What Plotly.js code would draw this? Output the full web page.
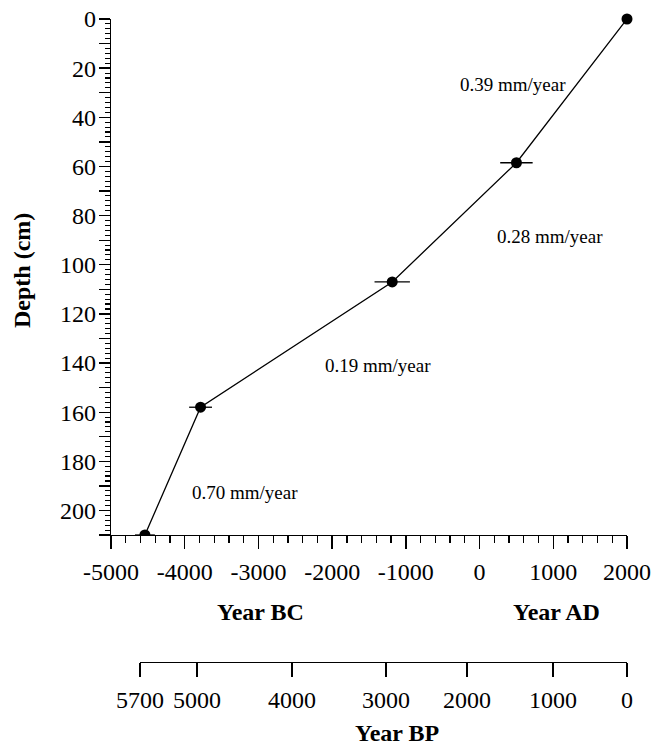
<!DOCTYPE html>
<html>
<head>
<meta charset="utf-8">
<script src="https://cdn.plot.ly/plotly-3.0.1.min.js"></script>
<style>html,body{margin:0;padding:0;background:#fff;}#chart{width:652px;height:747px;}</style>
</head>
<body>
<div id="chart"></div>
<script>
// Data
var years  = [2000, 500, -1185, -3785, -4540];   // calendar year (BC negative)
var depths = [0, 58.5, 107, 158, 210];           // depth (cm)
var yearErr = [0, 220, 240, 155, 135];           // +/- years

var rateLabels = ['0.39 mm/year', '0.28 mm/year', '0.19 mm/year', '0.70 mm/year'];
var rateX = [454, 956, -1378, -3182];
var rateY = [26.5, 88.7, 141.2, 192.5];

var xTickVals = [-5000, -4000, -3000, -2000, -1000, 0, 1000, 2000];
var xTickText = ['-5000', '-4000', '-3000', '-2000', '-1000', '0', '1000', '2000'];

var depthTickVals = [0, 10, 20, 30, 40, 50, 60, 70, 80, 90, 100, 110, 120, 130, 140, 150, 160, 170, 180, 190, 200, 210];
var depthTickText = ['0', '', '20', '', '40', '', '60', '', '80', '', '100', '', '120', '', '140', '', '160', '', '180', '', '200', ''];

var bpTickLabels = ['5700', '5000', '4000', '3000', '2000', '1000', '0'];
var bpTickCalYears = [-4607, -3833, -2544, -1269, -170, 997, 2000];

var FONT = "'Liberation Serif', 'Times New Roman', Times, serif";
var n = years.length;

var traces = [
  {
    x: years, y: depths, xaxis: 'x', yaxis: 'y', type: 'scatter', mode: 'lines',
    line: {color: '#000', width: 1.3}, hoverinfo: 'skip', showlegend: false
  },
  {
    x: years.slice(0, n - 1), y: depths.slice(0, n - 1), xaxis: 'x', yaxis: 'y', type: 'scatter', mode: 'markers',
    marker: {color: '#000', size: 11},
    error_x: {type: 'data', array: yearErr.slice(0, n - 1), color: '#000', thickness: 1.3, width: 0, visible: true},
    cliponaxis: false, showlegend: false
  },
  {
    x: years.slice(n - 1), y: depths.slice(n - 1), xaxis: 'x', yaxis: 'y', type: 'scatter', mode: 'markers',
    marker: {color: '#000', size: 11},
    error_x: {type: 'data', array: yearErr.slice(n - 1), color: '#000', thickness: 1.3, width: 0, visible: true},
    cliponaxis: true, showlegend: false
  },
  {
    // invisible trace that carries the Year BP axis
    x: [bpTickCalYears[0]], y: [0], xaxis: 'x2', yaxis: 'y2', type: 'scatter', mode: 'markers',
    marker: {opacity: 0, size: 1}, hoverinfo: 'skip', showlegend: false
  }
];

var annotations = [];
for (var i = 0; i < rateLabels.length; i++) {
  annotations.push({
    x: rateX[i], y: rateY[i], xref: 'x', yref: 'y', text: rateLabels[i], showarrow: false,
    font: {family: FONT, size: 19, color: '#000'}, xanchor: 'center', yanchor: 'middle'
  });
}
annotations.push(
  {x: 0.2888, y: 0.0778, xref: 'paper', yref: 'paper', text: '<b>Year BC</b>', showarrow: false,
   font: {family: FONT, size: 24, color: '#000'}, xanchor: 'center', yanchor: 'middle'},
  {x: 0.864, y: 0.0778, xref: 'paper', yref: 'paper', text: '<b>Year AD</b>', showarrow: false,
   font: {family: FONT, size: 24, color: '#000'}, xanchor: 'center', yanchor: 'middle'},
  {x: 0.554, y: -0.110, xref: 'paper', yref: 'paper', text: '<b>Year BP</b>', showarrow: false,
   font: {family: FONT, size: 24, color: '#000'}, xanchor: 'center', yanchor: 'middle'},
  {x: -0.1725, y: 0.6096, xref: 'paper', yref: 'paper', text: '<b>Depth (cm)</b>', showarrow: false,
   textangle: -90, font: {family: FONT, size: 24, color: '#000'}, xanchor: 'center', yanchor: 'middle'}
);

var layout = {
  width: 652, height: 747,
  margin: {l: 111, r: 25, t: 19, b: 85},
  paper_bgcolor: '#fff', plot_bgcolor: 'rgba(0,0,0,0)',
  font: {family: FONT, color: '#000'},
  showlegend: false,
  xaxis: {
    range: [-5000, 2000], domain: [0, 1], anchor: 'y',
    tickmode: 'array', tickvals: xTickVals, ticktext: xTickText,
    ticks: 'outside', ticklen: 13, tickwidth: 1.3, tickcolor: '#000',
    minor: {dtick: 200, tick0: 0, ticks: 'outside', ticklen: 7, tickwidth: 1.3, tickcolor: '#000', showgrid: false},
    showline: true, linecolor: '#000', linewidth: 1.3,
    showgrid: false, zeroline: false,
    tickfont: {family: FONT, size: 24, color: '#000'},
    ticklabelstandoff: 2
  },
  xaxis2: {
    range: [bpTickCalYears[0], 2000], domain: [29 / 516, 1], anchor: 'y2',
    tickmode: 'array', tickvals: bpTickCalYears, ticktext: bpTickLabels,
    ticks: 'outside', ticklen: 14, tickwidth: 1.3, tickcolor: '#000',
    showline: true, linecolor: '#000', linewidth: 1.3,
    showgrid: false, zeroline: false,
    tickfont: {family: FONT, size: 24, color: '#000'},
    ticklabelstandoff: 2
  },
  yaxis: {
    range: [210, 0], domain: [0.1975, 1], anchor: 'x',
    tickmode: 'array', tickvals: depthTickVals, ticktext: depthTickText,
    ticks: 'outside', ticklen: 11, tickwidth: 1.3, tickcolor: '#000',
    minor: {dtick: 2, tick0: 0, ticks: 'outside', ticklen: 5, tickwidth: 1.1, tickcolor: '#000', showgrid: false},
    showline: true, linecolor: '#000', linewidth: 1.3,
    showgrid: false, zeroline: false,
    tickfont: {family: FONT, size: 24, color: '#000'},
    ticklabelstandoff: -2
  },
  yaxis2: {
    range: [0, 1], domain: [0, 0.01], anchor: 'x2', visible: false, fixedrange: true
  },
  annotations: annotations
};

Plotly.newPlot('chart', traces, layout, {staticPlot: true, displayModeBar: false});
</script>
</body>
</html>
